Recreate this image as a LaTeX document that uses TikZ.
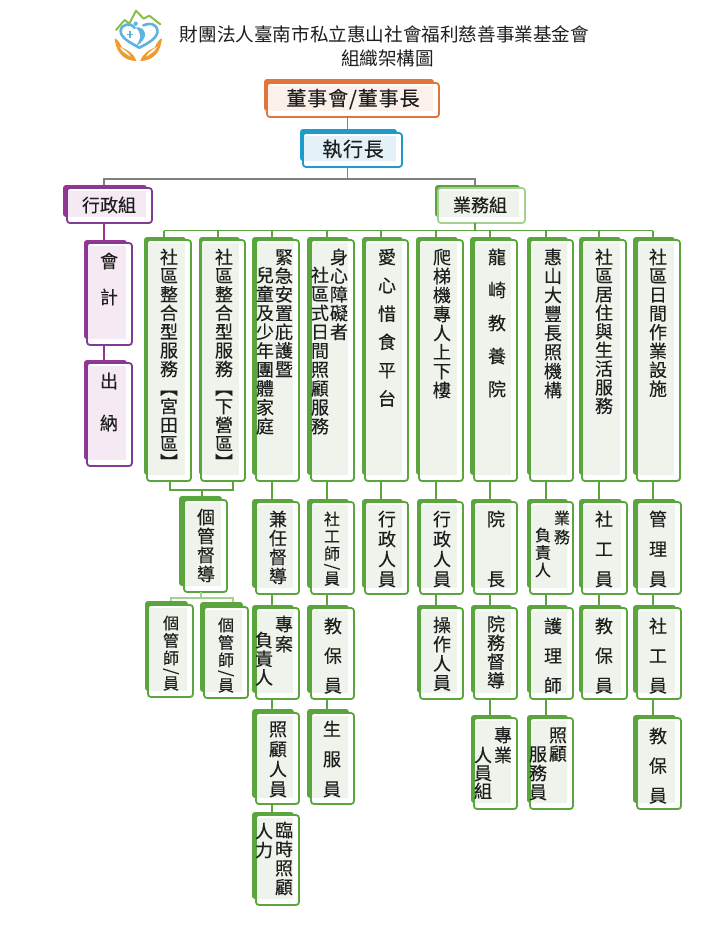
\documentclass[tikz,border=0pt]{standalone}
\usepackage{fontspec}
\usepackage{graphicx}
\setmainfont{Noto Sans CJK TC}
\newfontfamily\medfont[FakeBold=0.25]{Noto Sans CJK TC}
\definecolor{txt}{HTML}{1E1E1E}
\definecolor{grnD}{HTML}{5AA53D}
\definecolor{grnT}{HTML}{EEF4EB}
\definecolor{grnL}{HTML}{A5D190}
\definecolor{purD}{HTML}{9A3491}
\definecolor{purF}{HTML}{7F3C96}
\definecolor{purT}{HTML}{F5E9F3}
\definecolor{oraD}{HTML}{E0743A}
\definecolor{oraT}{HTML}{FBF0EA}
\definecolor{bluD}{HTML}{1E9BCB}
\definecolor{bluT}{HTML}{E4F2F8}
\definecolor{lineG}{HTML}{808080}
\definecolor{logoB}{HTML}{5FB4DF}
\definecolor{logoG}{HTML}{8ABF4B}
\definecolor{logoO}{HTML}{EE9A2C}
\tikzset{
  every node/.style={inner sep=0pt,outer sep=0pt,text=txt},
  grnback/.style={fill=grnD,rounded corners=3pt},
  grnfront/.style={draw=grnD,fill=white,line width=1.8pt,rounded corners=3pt},
  grntint/.style={fill=grnT},
  lgrback/.style={fill=grnD,rounded corners=3pt},
  lgrfront/.style={draw=grnL,fill=white,line width=1.8pt,rounded corners=3pt},
  lgrtint/.style={fill=grnT},
  purback/.style={fill=purD,rounded corners=3pt},
  purfront/.style={draw=purF,fill=white,line width=1.8pt,rounded corners=3pt},
  purtint/.style={fill=purT},
  oraback/.style={fill=oraD,rounded corners=3pt},
  orafront/.style={draw=oraD,fill=white,line width=1.8pt,rounded corners=3pt},
  oratint/.style={fill=oraT},
  bluback/.style={fill=bluD,rounded corners=3pt},
  blufront/.style={draw=bluD,fill=white,line width=1.8pt,rounded corners=3pt},
  blutint/.style={fill=bluT},
  greyline/.style={draw=lineG,line width=1.4pt},
  greenline/.style={draw=grnD,line width=1.4pt},
  lightline/.style={draw=grnL,line width=1.4pt},
  purline/.style={draw=purD,line width=1.4pt},
}
% name, scheme, back x, back y, front x1, y1, x2, y2
\newcommand\orgbox[8]{%
  \pgfmathsetmacro\bw{#7-5-#3}\pgfmathsetmacro\bh{#8-6-#4}%
  \pgfmathsetmacro\bcx{#3+\bw/2}\pgfmathsetmacro\bcy{#4+\bh/2}%
  \node[#2back,minimum width=\bw pt,minimum height=\bh pt] (#1b) at (\bcx,\bcy) {};%
  \pgfmathsetmacro\bw{#7-#5}\pgfmathsetmacro\bh{#8-#6}%
  \pgfmathsetmacro\bcx{#5+\bw/2}\pgfmathsetmacro\bcy{#6+\bh/2}%
  \node[#2front,minimum width=\bw pt,minimum height=\bh pt] (#1) at (\bcx,\bcy) {};%
  \pgfmathsetmacro\bw{#7-6-#5-1}\pgfmathsetmacro\bh{#8-6-#6-3}%
  \pgfmathsetmacro\bcx{#5+1+\bw/2}\pgfmathsetmacro\bcy{#6+3+\bh/2}%
  \node[#2tint,minimum width=\bw pt,minimum height=\bh pt] (#1t) at (\bcx,\bcy) {};%
}
\newcommand\vsl{\rotatebox[origin=c]{-90}{/}}
\ExplSyntaxOn
\NewDocumentCommand\vstack{mm}{
  \vbox{
    \baselineskip=#1pt \lineskiplimit=-1000pt \lineskip=0pt
    \tl_map_inline:nn {#2}{
      \token_if_eq_meaning:NNT ##1 \vsl {\vskip-5.2pt}
      \hbox~to~2em{\hss\vrule~height~.88em~depth~.12em~width~0pt\relax ##1\hss}
      \token_if_eq_meaning:NNT ##1 \vsl {\vskip-4.6pt}
    }
  }
}
\ExplSyntaxOff
\newcommand\lb{\rotatebox[origin=c]{-90}{【}}
\newcommand\rb{\rotatebox[origin=c]{-90}{】}}
\newcounter{vtn}
% optional size, x, y of first char centre, spacing, characters
\newcommand\vt[5][18]{%
  \stepcounter{vtn}%
  \node[anchor=north,yshift={0.5*#1 pt}] (vt\thevtn) at (#2,#3)
    {\medfont\fontsize{#1}{#1}\selectfont\vstack{#4}{#5}};%
}
\begin{document}
\begin{tikzpicture}[x=1pt,y=-1pt]
\useasboundingbox[fill=white] (0,0) rectangle (720,935);

% logo
\begin{scope}[shift={(100,0)},x=0.3333pt,y=-0.3333pt]
  \draw[draw=logoG,line width=2pt,line join=round,line cap=round]
    (48,90) -- (74,60) -- (88,71) -- (108,32) -- (131,56) -- (148,47) -- (181,73);
  \draw[draw=logoB,line width=2.6pt,line cap=round]
    (118,143) .. controls (90,128) and (60,112) .. (62,92)
    .. controls (64,72) and (92,66) .. (104,84);
  \draw[draw=logoB,line width=2.6pt,line cap=round]
    (118,143) .. controls (148,128) and (176,112) .. (172,90)
    .. controls (168,70) and (148,68) .. (130,76);
  \fill[logoB] (107,71) circle (6.5);
  \fill[logoB] (106,82) .. controls (138,78) and (150,115) .. (108,138)
    .. controls (124,115) and (126,98) .. (106,82) -- cycle;
  \draw[draw=logoB,line width=1.5pt] (80,103) -- (100,103) (90,93) -- (90,113);
  \fill[logoO] (44,115) .. controls (52,118) and (58,125) .. (66,143)
    .. controls (80,148) and (102,160) .. (109,183)
    .. controls (82,182) and (50,170) .. (44,115) -- cycle;
  \fill[white] (58,140) .. controls (70,148) and (85,155) .. (92,170)
    .. controls (78,162) and (66,155) .. (58,140) -- cycle;
  \fill[logoO] (186,115) .. controls (178,118) and (172,125) .. (164,143)
    .. controls (150,148) and (128,160) .. (121,183)
    .. controls (148,182) and (180,170) .. (186,115) -- cycle;
  \fill[white] (172,140) .. controls (160,148) and (145,155) .. (138,170)
    .. controls (152,162) and (164,155) .. (172,140) -- cycle;
\end{scope}

% title
\node[font=\fontsize{18.6}{20}\selectfont] (title1) at (384.5,34) {財團法人臺南市私立惠山社會福利慈善事業基金會};
\node[font=\fontsize{18.6}{20}\selectfont] (title2) at (387.5,58) {組織架構圖};

% top boxes
\orgbox{top}{ora}{264}{79}{267}{83}{439}{117}
\node[font=\medfont\fontsize{20}{22}\selectfont\addfontfeature{LetterSpace=4.5}] (topT) at (353,99) {董事會/董事長};
\orgbox{ceo}{blu}{300}{129}{303}{133}{402}{167}
\node[font=\medfont\fontsize{20}{22}\selectfont\addfontfeature{LetterSpace=4}] (ceoT) at (353,149) {執行長};
\orgbox{adm}{pur}{63}{185}{67}{188}{152}{223}
\node[font=\medfont\fontsize{18}{20}\selectfont] (admT) at (109,205) {行政組};
\orgbox{biz}{lgr}{435}{185}{438}{188}{525}{223}
\node[font=\medfont\fontsize{18}{20}\selectfont] (bizT) at (480,205) {業務組};

% admin column
\orgbox{acc}{pur}{84}{240}{87}{243}{132}{345}
\vt{109}{261}{36}{會計}
\orgbox{cas}{pur}{84}{360}{87}{363}{132}{466}
\vt{109}{381}{42}{出納}

% level 1
\orgbox{a1}{grn}{144}{237}{147}{240}{191}{481}
\vt{169}{257}{18.65}{社區整合型服務\lb 宮田區\rb}
\orgbox{a2}{grn}{199}{237}{201}{240}{245}{481}
\vt{224}{257}{18.65}{社區整合型服務\lb 下營區\rb}
\orgbox{a3}{grn}{252}{237}{256}{240}{299}{481}
\vt{284}{257}{18.7}{緊急安置庇護暨}
\vt{265}{275}{18.9}{兒童及少年團體家庭}
\orgbox{a4}{grn}{307}{237}{311}{240}{354}{481}
\vt{339}{257}{18.7}{身心障礙者}
\vt{320}{275}{18.9}{社區式日間照顧服務}
\orgbox{a5}{grn}{362}{237}{365}{240}{408}{481}
\vt{387}{257}{28.3}{愛心惜食平台}
\orgbox{a6}{grn}{416}{237}{419}{240}{463}{481}
\vt{442}{257}{19}{爬梯機專人上下樓}
\orgbox{a7}{grn}{470}{237}{474}{240}{517}{481}
\vt{497}{257}{33}{龍崎教養院}
\orgbox{a8}{grn}{527}{237}{530}{240}{573}{481}
\vt{553}{257}{19}{惠山大豐長照機構}
\orgbox{a9}{grn}{579}{237}{582}{240}{626}{481}
\vt{604}{257}{18.6}{社區居住與生活服務}
\orgbox{a10}{grn}{633}{237}{637}{240}{680}{481}
\vt{658}{257}{18.8}{社區日間作業設施}

% case management
\orgbox{cs}{grn}{179}{496}{184}{500}{227}{592}
\vt{206}{517}{19}{個管督導}
\orgbox{cm1}{grn}{145}{601}{148}{605}{193}{697}
\vt[16]{171}{623}{17.5}{個管師\vsl 員}
\orgbox{cm2}{grn}{200}{602}{204}{607}{248}{698}
\vt[16]{226}{625}{17.5}{個管師\vsl 員}

% column 3
\orgbox{b3}{grn}{252}{499}{256}{502}{299}{594}
\vt{278}{519}{19}{兼任督導}
\orgbox{c3}{grn}{252}{605}{256}{608}{299}{699}
\vt{284}{624}{20}{專案}
\vt{264}{640}{18.7}{負責人}
\orgbox{d3}{grn}{252}{709}{256}{713}{299}{804}
\vt{278}{729}{20}{照顧人員}
\orgbox{e3}{grn}{252}{812}{256}{815}{299}{905}
\vt{284}{830}{19}{臨時照顧}
\vt{264}{831}{19}{人力}

% column 4
\orgbox{b4}{grn}{307}{499}{311}{502}{354}{594}
\vt[16]{332}{519}{17.3}{社工師\vsl 員}
\orgbox{c4}{grn}{307}{605}{311}{608}{354}{699}
\vt{333}{626}{29.7}{教保員}
\orgbox{d4}{grn}{307}{709}{311}{713}{354}{804}
\vt{332}{729}{30}{生服員}

% column 5
\orgbox{b5}{grn}{362}{499}{365}{502}{408}{594}
\vt{387}{519}{20}{行政人員}

% column 6
\orgbox{b6}{grn}{417}{499}{420}{502}{463}{594}
\vt{442}{519}{20}{行政人員}
\orgbox{c6}{grn}{417}{605}{420}{608}{463}{699}
\vt{442}{625}{19.2}{操作人員}

% column 7
\orgbox{b7}{grn}{471}{499}{474}{502}{517}{594}
\vt{496}{519}{60}{院長}
\orgbox{c7}{grn}{471}{605}{474}{608}{517}{699}
\vt{496}{624}{18.8}{院務督導}
\orgbox{d7}{grn}{471}{715}{474}{718}{517}{809}
\vt{503}{735}{20}{專業}
\vt{483}{755}{18}{人員組}

% column 8
\orgbox{b8}{grn}{527}{499}{530}{502}{573}{594}
\vt[16]{562}{518}{19}{業務}
\vt[16]{543}{535}{17.5}{負責人}
\orgbox{c8}{grn}{527}{605}{530}{608}{573}{699}
\vt{553}{626}{29.7}{護理師}
\orgbox{d8}{grn}{527}{715}{530}{718}{573}{809}
\vt{558}{735}{18.5}{照顧}
\vt{538}{754}{19}{服務員}

% column 9
\orgbox{b9}{grn}{579}{499}{582}{502}{627}{594}
\vt{604}{519}{30}{社工員}
\orgbox{c9}{grn}{579}{605}{582}{608}{627}{699}
\vt{604}{626}{29.7}{教保員}

% column 10
\orgbox{b10}{grn}{633}{499}{637}{502}{681}{594}
\vt{658}{519}{30}{管理員}
\orgbox{c10}{grn}{633}{605}{637}{608}{681}{699}
\vt{658}{626}{29.7}{社工員}
\orgbox{d10}{grn}{633}{715}{637}{718}{681}{809}
\vt{658}{736}{29.7}{教保員}

% connector anchors
\coordinate (gbus) at (347.5,179);
\coordinate (gL) at (104,179);
\coordinate (gR) at (475,179);
\coordinate (bus) at (475,230.5);
\foreach \n/\x in {1/164,2/218,3/272,4/327,5/381,6/436,7/490,8/546,9/599,10/653}
  \coordinate (t\n) at (\x,230.5);
\coordinate (br1) at (170,490);
\coordinate (br2) at (233,490);
\coordinate (brm) at (202,490);
\coordinate (lb1) at (171,598);
\coordinate (lb2) at (233,598);
\coordinate (lbm) at (201,598);

% grey connectors
\draw[greyline] (gbus |- top.south) -- (gbus |- ceob.north);
\draw[greyline] (gbus |- ceo.south) -- (gbus);
\draw[greyline] (admb.north -| gL) -- (gL) -- (gR) -- (bizb.north -| gR);
% purple
\draw[purline] (gL |- adm.south) -- (gL |- accb.north);
\draw[purline] (gL |- acc.south) -- (gL |- casb.north);
% green bus
\draw[greenline] (bus |- biz.south) -- (bus);
\draw[greenline] (t1) -- (t10);
\foreach \n in {1,...,10}
  \draw[greenline] (t\n) -- (t\n |- a\n b.north);
% bracket to case supervisor
\draw[greenline] (br1 |- a1.south) -- (br1) -- (br2) -- (br2 |- a2.south);
\draw[greenline] (brm) -- (brm |- csb.north);
\draw[lightline] (lbm |- cs.south) -- (lbm);
\draw[lightline] (lb1 |- cm1b.north) -- (lb1) -- (lb2) -- (lb2 |- cm2b.north);
% column stems
\foreach \n/\u/\v in {3/a3/b3b,3/b3/c3b,3/c3/d3b,3/d3/e3b,
  4/a4/b4b,4/b4/c4b,4/c4/d4b,
  5/a5/b5b,
  6/a6/b6b,6/b6/c6b,
  7/a7/b7b,7/b7/c7b,7/c7/d7b,
  8/a8/b8b,8/b8/c8b,8/c8/d8b,
  9/a9/b9b,9/b9/c9b,
  10/a10/b10b,10/b10/c10b,10/c10/d10b}
  \draw[greenline] (t\n |- \u.south) -- (t\n |- \v.north);
\end{tikzpicture}
\end{document}
